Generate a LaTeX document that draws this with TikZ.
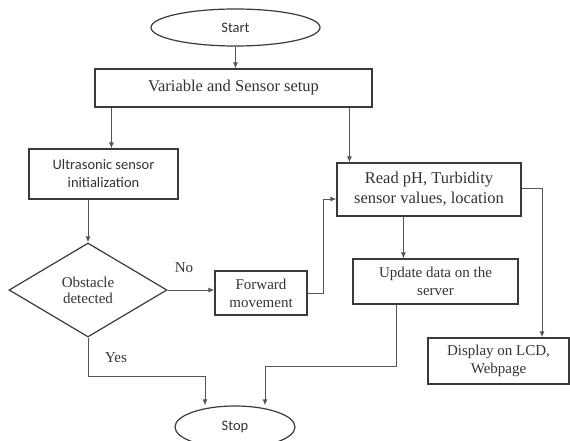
\documentclass[tikz,border=0pt]{standalone}
\usepackage{fontspec}
\setmainfont{Liberation Serif}
\newfontfamily\calfont{Carlito}
\usetikzlibrary{shapes.geometric,arrows.meta}
\definecolor{txt}{HTML}{333333}
\definecolor{edge}{HTML}{3A3A3A}
\definecolor{conn}{HTML}{555555}
\tikzset{
  boxnode/.style={draw=edge,line width=1.2pt,rectangle,inner sep=0pt,align=center,text=txt,
    font=\fontsize{15}{18}\selectfont},
  termnode/.style={draw=edge,line width=1.2pt,ellipse,inner sep=0pt,text=txt,
    font=\calfont\fontsize{14.5}{17}\selectfont},
  decnode/.style={draw=edge,line width=1.2pt,diamond,aspect=1.68,inner sep=0pt,align=center,text=txt,
    font=\fontsize{15}{16}\selectfont},
  lbl/.style={text=txt,font=\fontsize{15}{18}\selectfont,inner sep=0pt},
  arr/.style={draw=conn,line width=0.9pt,-{Latex[length=6pt,width=5pt]}}
}
\begin{document}
\begin{tikzpicture}[x=1pt,y=1pt]
\useasboundingbox (0,0) rectangle (570,-441);
\node[termnode,minimum width=169,minimum height=37] (start) at (235.5,-27.5) {Start};
\node[boxnode,minimum width=277,minimum height=38,font=\fontsize{16.5}{20}\selectfont] (setup) at (233.5,-88) {Variable and Sensor setup};
\node[boxnode,minimum width=149,minimum height=50,font=\calfont\fontsize{14.5}{18}\selectfont] (us) at (103.5,-174) {Ultrasonic sensor\\initialization};
\node[decnode,minimum width=158,minimum height=94] (dia) at (88,-290) {Obstacle\\detected};
\node[boxnode,minimum width=92,minimum height=44] (fwd) at (261,-293) {Forward\\movement};
\node[boxnode,minimum width=184,minimum height=53,font=\fontsize{16.5}{20}\selectfont] (read) at (429,-189.5) {Read pH, Turbidity\\sensor values, location};
\node[boxnode,minimum width=165,minimum height=45] (upd) at (435.5,-281.5) {Update data on the\\server};
\node[boxnode,minimum width=141,minimum height=46] (disp) at (498.5,-361) {Display on LCD,\\Webpage};
\node[termnode,minimum width=120,minimum height=42] (stop) at (235,-427) {Stop};
\node[lbl] (no) at (184,-268) {No};
\node[lbl] (yes) at (116,-358) {Yes};

\coordinate (ustop) at ([xshift=83]us.north west);
\coordinate (rtop) at ([xshift=13]read.north west);
\coordinate (rbot) at ([xshift=67]read.south west);

\draw[arr] (start.south) -- (start.south |- setup.north);
\draw[arr] (ustop |- setup.south) -- (ustop);
\draw[arr] (rtop |- setup.south) -- (rtop);
\draw[arr] (us.south -| dia.north) -- (dia.north);
\draw[arr] (dia.east) -- (fwd.west |- dia.east);
\draw[arr] (fwd.east) -- ++(16,0) |- ([yshift=-9.5]read.west);
\draw[arr] (rbot) -- (rbot |- upd.north);
\draw[arr] ([yshift=1.5]read.east) -| ([xshift=43.5]disp.north);
\draw[arr] ([xshift=-39.5]upd.south) |- ([xshift=30,yshift=39]stop.north) -- ([xshift=30]stop.north);
\draw[arr] (dia.south) |- ([xshift=-30,yshift=29]stop.north) -- ([xshift=-30]stop.north);
\end{tikzpicture}
\end{document}
